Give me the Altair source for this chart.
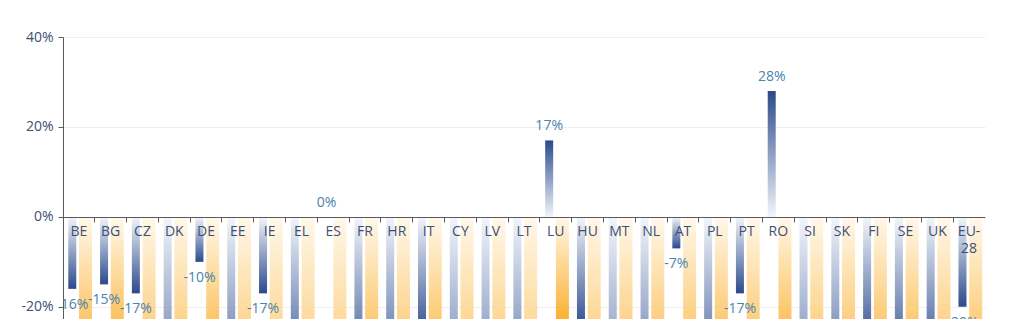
import altair as alt
import pandas as pd

countries = ["BE", "BG", "CZ", "DK", "DE", "EE", "IE", "EL", "ES", "FR", "HR", "IT", "CY", "LV",
             "LT", "LU", "HU", "MT", "NL", "AT", "PL", "PT", "RO", "SI", "SK", "FI", "SE", "UK", "EU-28"]
blue_vals = [-16, -15, -17, -50, -10, -45, -17, -37, 0, -36, -40, -27, -55, -55,
             -50, 17, -25, -60, -50, -7, -40, -17, 28, -55, -45, -29, -33, -33, -20]
orange_vals = [-33, -30, -45, -45, -33, -50, -55, -55, -55, -36, -45, -36, -50, -50,
               -55, -23, -50, -45, -40, -40, -36, -40, -31, -45, -40, -36, -36, -45, -40]

rows = []
for c, b, o in zip(countries, blue_vals, orange_vals):
    rows.append({"country": c, "series": "a", "v": b})
    rows.append({"country": c, "series": "b", "v": o})
df = pd.DataFrame(rows)

BLUE_LIGHT = "#f2f5fa"
BLUE_DARK = "#2b4a8b"
OR_LIGHT = "#fff8ea"
OR_DARK = "#fbb030"

def grad(c_top, c_bottom):
    return alt.Gradient(gradient="linear", x1=0, x2=0, y1=0, y2=1,
                        stops=[alt.GradientStop(color=c_top, offset=0),
                               alt.GradientStop(color=c_bottom, offset=1)])

x_enc = alt.X("country:N", sort=countries,
              scale=alt.Scale(paddingInner=0, paddingOuter=0),
              axis=alt.Axis(title=None, orient="bottom", offset=-102, labelAngle=0,
                            domainColor="#5a5a5a", tickColor="#5a5a5a", tickSize=5,
                            bandPosition=0, labelFontSize=14, labelColor="#3e4f74",
                            labelPadding=2, labelFont="Open Sans", grid=False, zindex=1,
                            labelLineHeight=17,
                            labelExpr="datum.label == 'EU-28' ? ['EU-', '28'] : datum.label"))
y_enc = alt.Y("v:Q", scale=alt.Scale(domain=[-22.7, 40], nice=False, zero=False),
              axis=alt.Axis(title=None, values=[-20, 0, 20, 40], labelExpr="datum.value + '%'",
                            labelFontSize=14, labelColor="#3e4f74", labelFont="Open Sans",
                            domainColor="#5a5a5a", tickColor="#5a5a5a", tickSize=5,
                            labelPadding=5, gridColor="#eeeeee", grid=True))
xo = alt.XOffset("series:N", scale=alt.Scale(domain=["a", "b"], paddingInner=0, paddingOuter=0.2))

base = alt.Chart(df).encode(x=x_enc, xOffset=xo)

blue_neg = base.transform_filter("datum.series == 'a' && datum.v < 0").mark_bar(
    width=8, clip=True, color=grad(BLUE_LIGHT, BLUE_DARK)).encode(y=y_enc)
blue_pos = base.transform_filter("datum.series == 'a' && datum.v >= 0").mark_bar(
    width=8, clip=True, color=grad(BLUE_DARK, BLUE_LIGHT)).encode(y=y_enc)
orange = base.transform_filter("datum.series == 'b'").mark_bar(
    width=13, clip=True, color=grad(OR_LIGHT, OR_DARK)).encode(y=y_enc)

lab = base.transform_calculate(lbl="datum.v + '%'")
lab_neg = lab.transform_filter("datum.series == 'a' && datum.v < 0").mark_text(
    dy=16, clip=True, fontSize=14, font="Open Sans", color="#4a84ac", baseline="middle").encode(
    y=y_enc, text="lbl:N")
lab_pos = lab.transform_filter("datum.series == 'a' && datum.v >= 0").mark_text(
    dy=-14, clip=True, fontSize=14, font="Open Sans", color="#4a84ac", baseline="middle").encode(
    y=y_enc, text="lbl:N")
lab_or = lab.transform_filter("datum.series == 'b'").mark_text(
    dy=16, clip=True, fontSize=14, font="Open Sans", color="#4a84ac", baseline="middle").encode(
    y=y_enc, text="lbl:N")

chart = alt.layer(orange, blue_neg, blue_pos, lab_neg, lab_pos, lab_or).properties(
    width=922, height=282, autosize=alt.AutoSizeParams(type="none"),
    padding={"left": 63, "top": 37, "right": 38, "bottom": 0},
    background="white",
).configure_view(stroke=None)

chart.save("out.html", embed_options={"renderer": "svg", "actions": False})
